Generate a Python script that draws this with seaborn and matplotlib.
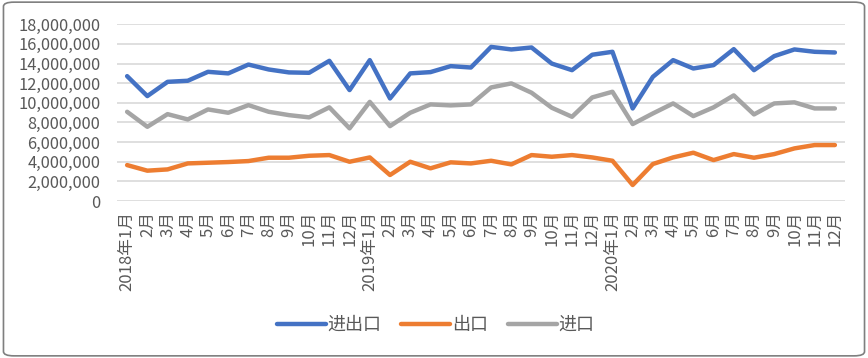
import matplotlib
matplotlib.use("Agg")
import matplotlib.pyplot as plt
from matplotlib.patches import FancyBboxPatch
from matplotlib.ticker import FuncFormatter
import seaborn as sns
import pandas as pd

# monthly values
months = (["2018年1月"] + [f"{m}月" for m in range(2, 13)]
          + ["2019年1月"] + [f"{m}月" for m in range(2, 13)]
          + ["2020年1月"] + [f"{m}月" for m in range(2, 13)])

total = [12.72, 10.69, 12.14, 12.25, 13.16, 13.00, 13.90, 13.40, 13.10, 13.06, 14.28, 11.30,
         14.35, 10.45, 13.00, 13.13, 13.74, 13.60, 15.70, 15.44, 15.64, 14.00, 13.33, 14.90,
         15.20, 9.43, 12.65, 14.35, 13.50, 13.84, 15.47, 13.33, 14.76, 15.44, 15.20, 15.13]
export = [3.66, 3.09, 3.22, 3.83, 3.90, 3.97, 4.07, 4.41, 4.41, 4.61, 4.68, 4.00,
          4.44, 2.65, 4.00, 3.33, 3.94, 3.83, 4.10, 3.73, 4.68, 4.51, 4.68, 4.44,
          4.10, 1.63, 3.77, 4.44, 4.92, 4.17, 4.78, 4.41, 4.78, 5.36, 5.70, 5.70]
imports = [9.09, 7.56, 8.85, 8.31, 9.33, 8.99, 9.77, 9.09, 8.75, 8.52, 9.54, 7.40,
           10.10, 7.63, 8.99, 9.84, 9.74, 9.84, 11.57, 11.98, 11.03, 9.50, 8.58, 10.55,
           11.13, 7.84, 8.92, 9.94, 8.65, 9.54, 10.76, 8.82, 9.94, 10.05, 9.43, 9.43]

series_names = ["进出口", "出口", "进口"]
colors = ["#4472C4", "#ED7D31", "#A5A5A5"]

rows = []
for name, vals in zip(series_names, [total, export, imports]):
    for i, v in enumerate(vals):
        rows.append({"idx": i, "value": v * 1e6, "series": name})
df = pd.DataFrame(rows)

sns.set_style("white")
plt.rcParams["font.family"] = ["Noto Sans CJK SC", "DejaVu Sans"]

fig = plt.figure(figsize=(8.68, 3.58), dpi=100)
ax = fig.add_axes([0.1348, 0.4385, 0.8387, 0.4936])

sns.lineplot(data=df, x="idx", y="value", hue="series", hue_order=series_names,
             palette=colors, linewidth=3.2, ax=ax, legend=True)

ax.set_xlim(-0.5, 35.5)
ax.set_ylim(0, 18e6)
ax.set_yticks(range(0, 18000001, 2000000))
ax.yaxis.set_major_formatter(FuncFormatter(lambda v, p: f"{int(v):,}"))
ax.set_xticks(range(len(months)))
ax.set_xticklabels(months, rotation=90, va="top", ha="center")
ax.tick_params(axis="x", length=0, pad=7, labelsize=12, colors="#595959")
ax.tick_params(axis="y", length=0, pad=12, labelsize=11.8, colors="#595959")
ax.grid(axis="y", color="#D9D9D9", linewidth=1.2)
ax.set_axisbelow(True)
for s in ax.spines.values():
    s.set_visible(False)
ax.set_xlabel("")
ax.set_ylabel("")

handles, labels = ax.get_legend_handles_labels()
ax.legend(handles, labels, loc="center", bbox_to_anchor=(0.502, 0.092),
          bbox_transform=fig.transFigure, ncol=3, frameon=False,
          fontsize=13, handlelength=2.7, handletextpad=0.1, columnspacing=1.1,
          labelcolor="#595959")

fig.patches.append(FancyBboxPatch((0.004, 0.006), 0.992, 0.988,
                                  boxstyle="round,pad=0,rounding_size=0.012",
                                  transform=fig.transFigure, fill=False,
                                  edgecolor="#7F7F7F", linewidth=1.2))

fig.savefig("out.png", dpi=100)
